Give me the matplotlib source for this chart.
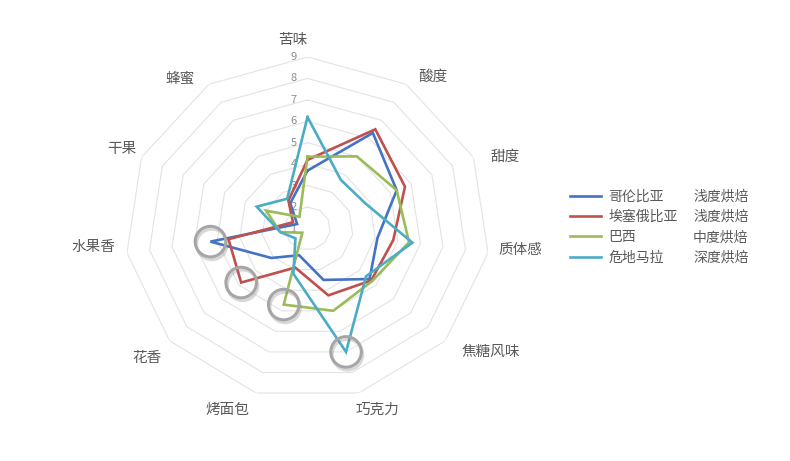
import numpy as np
import matplotlib
matplotlib.use('Agg')
import matplotlib.pyplot as plt
import matplotlib.patheffects as pe

plt.rcParams['font.family'] = ['Noto Sans CJK SC', 'DejaVu Sans']

# Data
CATEGORIES = ["苦味", "酸度", "甜度", "质体感", "焦糖风味", "巧克力",
              "烤面包", "花香", "水果香", "干果", "蜂蜜"]
COUNTRIES = ["哥伦比亚", "埃塞俄比亚", "巴西", "危地马拉"]
ROASTS = ["浅度烘焙", "浅度烘焙", "中度烘焙", "深度烘焙"]

colombia = [3.7, 6.3, 5.3, 4.1, 4.6, 3.5, 2.3, 3.1, 5.3, 1.5, 2.4]
ethiopia = [4.2, 6.5, 5.7, 4.8, 4.7, 4.25, 2.9, 4.85, 4.5, 1.7, 2.55]
brazil = [4.35, 5.0, 5.3, 5.5, 4.75, 5.0, 4.7, 1.3, 2.2, 3.0, 1.65]
guatemala = [6.2, 3.7, 3.8, 5.65, 4.4, 7.0, 3.2, 1.7, 2.2, 3.45, 2.65]
SERIES = [colombia, ethiopia, brazil, guatemala]

# circled points: (series index, category index)
HIGHLIGHTS = [(0, 8), (1, 7), (2, 6), (3, 5)]

TICKS = [1, 2, 3, 4, 5, 6, 7, 8, 9]

COLORS = ["#4472C4", "#C0504D", "#9BBB59", "#4BACC6"]
TEXT = "#595959"
GRID = "#e3e3e3"

W, H = 790, 461
fig = plt.figure(figsize=(W / 100, H / 100), dpi=100)

# axes box so the outer ring spans the same pixels as the reference
cx, cy, rx, ry = 307.5, 228.5, 182.4, 171.5
ax = fig.add_axes([(cx - rx) / W, (H - cy - ry) / H, 2 * rx / W, 2 * ry / H],
                  projection='polar')
ax.set_aspect('auto')
ax.set_theta_zero_location('N')
ax.set_theta_direction(-1)
ax.set_ylim(TICKS[0], TICKS[-1])
ax.grid(False)
ax.spines['polar'].set_visible(False)
ax.set_xticks([])
ax.set_yticks([])
ax.patch.set_alpha(0)

n = len(CATEGORIES)
angles = np.arange(n) * 2 * np.pi / n
closed = np.append(angles, angles[0])

# polygon rings
for t in TICKS[1:]:
    ax.plot(closed, [t] * (n + 1), color=GRID, lw=0.8, zorder=1)

# value labels along the top axis
for t in TICKS:
    ax.annotate(str(t), xy=(0, t), xytext=(-14, 0), textcoords='offset pixels',
                ha='center', va='center', fontsize=8, color='#8c8c8c')

# category labels (pixel nudges to mimic the original placement)
label_offsets = [(-15, 17), (27, 7), (32, 0), (32, 3), (45, -11), (19, -17),
                 (-29, -17), (-23, -17), (-34, 6), (-20, 8), (-29, 6)]
for a, lab, off in zip(angles, CATEGORIES, label_offsets):
    ax.annotate(lab, xy=(a, TICKS[-1]), xytext=off, textcoords='offset pixels',
                ha='center', va='center', fontsize=10.5, color=TEXT)

handles = []
for vals, col, name in zip(SERIES, COLORS, COUNTRIES):
    h, = ax.plot(closed, vals + vals[:1], color=col, lw=1.9, zorder=3,
                 solid_joinstyle='miter', label=name)
    handles.append(h)

for si, ci in HIGHLIGHTS:
    ax.plot(angles[ci], SERIES[si][ci], 'o', ms=22, mfc='none', mec='#a6a6a6',
            mew=2.2, zorder=5,
            path_effects=[pe.SimpleLineShadow(offset=(1, -2), shadow_color='#808080', alpha=0.3),
                          pe.Normal()])

leg = fig.legend(handles=handles, labels=COUNTRIES, loc='center left',
                 bbox_to_anchor=(570 / W, 1 - 227 / H), frameon=False,
                 fontsize=10, handlelength=2.2, handletextpad=0.55,
                 labelspacing=0.45, borderpad=0, borderaxespad=0)
for t in leg.get_texts():
    t.set_color(TEXT)

fig.canvas.draw()
for t, roast in zip(leg.get_texts(), ROASTS):
    bb = t.get_window_extent()
    fig.text(693 / W, (bb.y0 + bb.y1) / 2 / H, roast, ha='left', va='center',
             fontsize=10, color=TEXT)

fig.savefig('out.png', dpi=100)
